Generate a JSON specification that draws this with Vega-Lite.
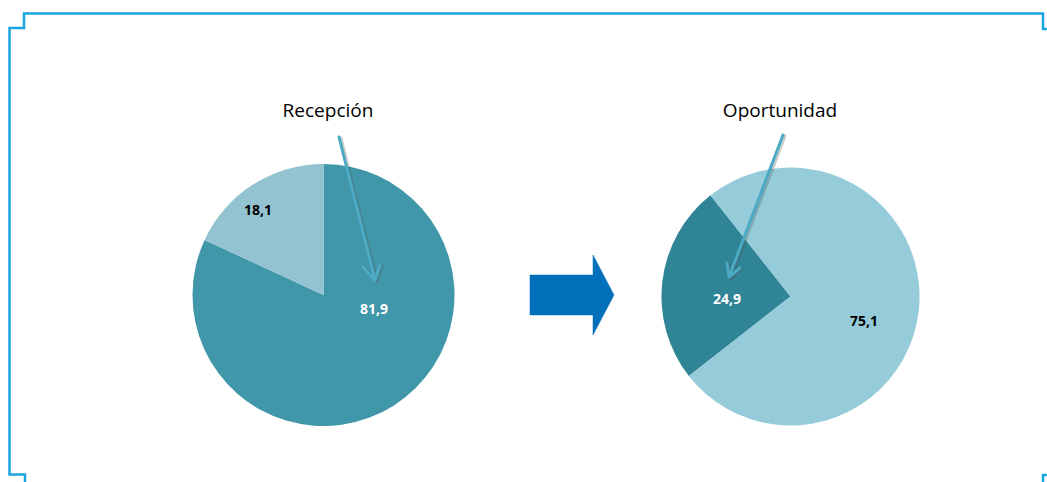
{
  "$schema": "https://vega.github.io/schema/vega-lite/v6.json",
  "width": 1047,
  "height": 482,
  "padding": 0,
  "autosize": {"type": "fit", "contains": "padding"},
  "background": "white",
  "config": {"view": {"stroke": null}},
  "datasets": {
    "frame": [
      {"seg": "f1", "i": 1, "x": 1049, "y": 29},
      {"seg": "f1", "i": 2, "x": 1043, "y": 29},
      {"seg": "f1", "i": 3, "x": 1043, "y": 13.5},
      {"seg": "f1", "i": 4, "x": 24, "y": 13.5},
      {"seg": "f1", "i": 5, "x": 24, "y": 28},
      {"seg": "f1", "i": 6, "x": 9.5, "y": 28},
      {"seg": "f1", "i": 7, "x": 9.5, "y": 474.5},
      {"seg": "f1", "i": 8, "x": 25, "y": 474.5},
      {"seg": "f1", "i": 9, "x": 25, "y": 485},
      {"seg": "f2", "i": 1, "x": 1043, "y": 485},
      {"seg": "f2", "i": 2, "x": 1043, "y": 475},
      {"seg": "f2", "i": 3, "x": 1049, "y": 475}
    ],
    "bigArrow": [
      {"i": 1, "x": 530, "y": 275},
      {"i": 2, "x": 593, "y": 275},
      {"i": 3, "x": 593, "y": 255},
      {"i": 4, "x": 614, "y": 295},
      {"i": 5, "x": 593, "y": 335},
      {"i": 6, "x": 593, "y": 315},
      {"i": 7, "x": 530, "y": 315},
      {"i": 8, "x": 530, "y": 275}
    ],
    "pointers": [
      {"seg": "l1", "i": 1, "x": 339, "y": 137},
      {"seg": "l1", "i": 2, "x": 375, "y": 280},
      {"seg": "l2", "i": 1, "x": 363, "y": 267},
      {"seg": "l2", "i": 2, "x": 375, "y": 280},
      {"seg": "l2", "i": 3, "x": 380, "y": 265},
      {"seg": "r1", "i": 1, "x": 783, "y": 135},
      {"seg": "r1", "i": 2, "x": 729, "y": 277},
      {"seg": "r2", "i": 1, "x": 727, "y": 263},
      {"seg": "r2", "i": 2, "x": 729, "y": 277},
      {"seg": "r2", "i": 3, "x": 740, "y": 268}
    ],
    "slices": [
      {"pie": "Recepción", "cat": "principal", "ord": 1, "value": 81.9, "label": "81,9", "tono": "oscuro", "cx": 323.5, "cy": 295, "lx": 374, "ly": 310},
      {"pie": "Recepción", "cat": "resto", "ord": 2, "value": 18.1, "label": "18,1", "tono": "claro", "cx": 323.5, "cy": 295, "lx": 258, "ly": 211},
      {"pie": "Oportunidad", "cat": "principal", "ord": 1, "value": 24.9, "label": "24,9", "tono": "oscuro", "cx": 790.5, "cy": 296.5, "lx": 727, "ly": 300},
      {"pie": "Oportunidad", "cat": "resto", "ord": 2, "value": 75.1, "label": "75,1", "tono": "claro", "cx": 790.5, "cy": 296.5, "lx": 864, "ly": 322}
    ],
    "titles": [
      {"title": "Recepción", "x": 328, "y": 111},
      {"title": "Oportunidad", "x": 780, "y": 111}
    ]
  },
  "layer": [
    {
      "data": {"name": "slices"},
      "transform": [{"filter": "datum.pie === 'Recepción'"}],
      "mark": {"type": "arc", "outerRadius": 131, "stroke": null},
      "encoding": {
        "x": {"field": "cx", "type": "quantitative", "scale": {"domain": [0, 1047], "nice": false, "zero": false}, "axis": null},
        "y": {"field": "cy", "type": "quantitative", "scale": {"domain": [0, 482], "nice": false, "zero": false, "reverse": true}, "axis": null},
        "theta": {"field": "value", "type": "quantitative", "stack": true, "scale": {"range": [0, 6.283185]}},
        "color": {"field": "cat", "type": "nominal", "scale": {"domain": ["principal", "resto"], "range": ["#4197AA", "#93C3D1"]}, "legend": null},
        "order": {"field": "ord", "type": "quantitative"}
      }
    },
    {
      "data": {"name": "slices"},
      "transform": [{"filter": "datum.pie === 'Oportunidad'"}],
      "mark": {"type": "arc", "outerRadius": 129, "stroke": null},
      "encoding": {
        "x": {"field": "cx", "type": "quantitative", "scale": {"domain": [0, 1047], "nice": false, "zero": false}, "axis": null},
        "y": {"field": "cy", "type": "quantitative", "scale": {"domain": [0, 482], "nice": false, "zero": false, "reverse": true}, "axis": null},
        "theta": {"field": "value", "type": "quantitative", "stack": true, "scale": {"range": [-2.234, 4.0492]}},
        "color": {"field": "cat", "type": "nominal", "scale": {"domain": ["principal", "resto"], "range": ["#2F8496", "#96CCD9"]}, "legend": null},
        "order": {"field": "ord", "type": "quantitative"}
      }
    },
    {
      "data": {"name": "slices"},
      "mark": {"type": "text", "font": "Open Sans", "fontSize": 14, "fontWeight": "bold", "align": "center", "baseline": "middle"},
      "encoding": {
        "x": {"field": "lx", "type": "quantitative", "scale": {"domain": [0, 1047], "nice": false, "zero": false}, "axis": null},
        "y": {"field": "ly", "type": "quantitative", "scale": {"domain": [0, 482], "nice": false, "zero": false, "reverse": true}, "axis": null},
        "text": {"field": "label", "type": "nominal"},
        "color": {"field": "tono", "type": "nominal", "scale": {"domain": ["oscuro", "claro"], "range": ["#FFFFFF", "#000000"]}, "legend": null}
      }
    },
    {
      "data": {"name": "bigArrow"},
      "mark": {"type": "line", "filled": true, "fill": "#0070BA", "stroke": "#0070BA", "strokeWidth": 0.5},
      "encoding": {
        "x": {"field": "x", "type": "quantitative", "scale": {"domain": [0, 1047], "nice": false, "zero": false}, "axis": null},
        "y": {"field": "y", "type": "quantitative", "scale": {"domain": [0, 482], "nice": false, "zero": false, "reverse": true}, "axis": null},
        "order": {"field": "i", "type": "quantitative"}
      }
    },
    {
      "data": {"name": "pointers"},
      "mark": {"type": "line", "color": "#555555", "opacity": 0.3, "strokeWidth": 3, "strokeCap": "round", "strokeJoin": "round", "xOffset": 2, "yOffset": 1},
      "encoding": {
        "x": {"field": "x", "type": "quantitative", "scale": {"domain": [0, 1047], "nice": false, "zero": false}, "axis": null},
        "y": {"field": "y", "type": "quantitative", "scale": {"domain": [0, 482], "nice": false, "zero": false, "reverse": true}, "axis": null},
        "detail": {"field": "seg", "type": "nominal"},
        "order": {"field": "i", "type": "quantitative"}
      }
    },
    {
      "data": {"name": "pointers"},
      "mark": {"type": "line", "color": "#4BAAC4", "strokeWidth": 3, "strokeCap": "round", "strokeJoin": "round"},
      "encoding": {
        "x": {"field": "x", "type": "quantitative", "scale": {"domain": [0, 1047], "nice": false, "zero": false}, "axis": null},
        "y": {"field": "y", "type": "quantitative", "scale": {"domain": [0, 482], "nice": false, "zero": false, "reverse": true}, "axis": null},
        "detail": {"field": "seg", "type": "nominal"},
        "order": {"field": "i", "type": "quantitative"}
      }
    },
    {
      "data": {"name": "frame"},
      "mark": {"type": "line", "color": "#1AA5DF", "strokeWidth": 2.5, "strokeJoin": "miter", "clip": true},
      "encoding": {
        "x": {"field": "x", "type": "quantitative", "scale": {"domain": [0, 1047], "nice": false, "zero": false}, "axis": null},
        "y": {"field": "y", "type": "quantitative", "scale": {"domain": [0, 482], "nice": false, "zero": false, "reverse": true}, "axis": null},
        "detail": {"field": "seg", "type": "nominal"},
        "order": {"field": "i", "type": "quantitative"}
      }
    },
    {
      "data": {"name": "titles"},
      "mark": {"type": "text", "font": "Open Sans", "fontSize": 19, "align": "center", "baseline": "middle", "color": "#000000"},
      "encoding": {
        "x": {"field": "x", "type": "quantitative", "scale": {"domain": [0, 1047], "nice": false, "zero": false}, "axis": null},
        "y": {"field": "y", "type": "quantitative", "scale": {"domain": [0, 482], "nice": false, "zero": false, "reverse": true}, "axis": null},
        "text": {"field": "title", "type": "nominal"}
      }
    }
  ],
  "resolve": {"scale": {"theta": "independent", "color": "independent"}}
}
